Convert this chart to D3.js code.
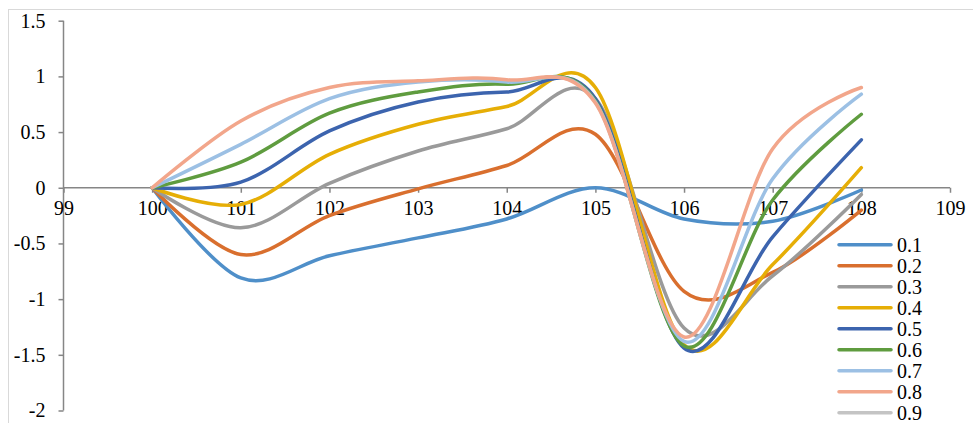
<!DOCTYPE html>
<html>
<head>
<meta charset="utf-8">
<script src="https://cdn.jsdelivr.net/npm/d3@7"></script>
<style>
  html, body { margin: 0; padding: 0; background: #ffffff; }
  svg { display: block; }
</style>
</head>
<body>
<svg id="chart" width="973" height="423"></svg>
<script>
// ---- data ----
const xValues = [100, 101, 102, 103, 104, 105, 106, 107, 108];
const seriesNames = ["0.1", "0.2", "0.3", "0.4", "0.5", "0.6", "0.7", "0.8", "0.9"];
const s01 = [0, -0.81, -0.61, -0.45, -0.28, 0.00, -0.28, -0.30, -0.02];
const s02 = [0, -0.60, -0.25, -0.01, 0.20, 0.48, -0.93, -0.76, -0.20];
const s03 = [0, -0.36, 0.04, 0.33, 0.53, 0.80, -1.26, -0.79, -0.06];
const s04 = [0, -0.15, 0.30, 0.57, 0.73, 0.90, -1.41, -0.69, 0.18];
const s05 = [0, 0.05, 0.51, 0.77, 0.86, 0.80, -1.44, -0.44, 0.43];
const s06 = [0, 0.23, 0.67, 0.86, 0.93, 0.78, -1.42, -0.11, 0.66];
const s07 = [0, 0.39, 0.80, 0.95, 0.95, 0.77, -1.38, 0.08, 0.84];
const s08 = [0, 0.60, 0.90, 0.96, 0.97, 0.76, -1.34, 0.35, 0.90];
const s09 = []; // not visible in the chart
const seriesValues = [s01, s02, s03, s04, s05, s06, s07, s08, s09];
const xTicks = [99, 100, 101, 102, 103, 104, 105, 106, 107, 108, 109];
const yTicks = [1.5, 1, 0.5, 0, -0.5, -1, -1.5, -2];
const colors = ["#4f8fc9", "#d96f2e", "#9a9a9a", "#e6ae06", "#3c64ae", "#5f9c3f", "#9cc0e4", "#f2a68b", "#c4c4c4"];

// ---- layout ----
const svg = d3.select("#chart");
const font = "'Liberation Serif', 'Times New Roman', serif";

svg.append("rect")
  .attr("x", 8.5).attr("y", 9.5).attr("width", 975).attr("height", 430)
  .attr("fill", "#ffffff").attr("stroke", "#d9d9d9").attr("stroke-width", 1);

const x = d3.scaleLinear().domain([99, 109]).range([63.5, 950]);
const y = d3.scaleLinear().domain([-2, 1.5]).range([410.5, 20.7]);

// y axis
const yAxis = svg.append("g")
  .attr("transform", `translate(${x(99)},0)`)
  .call(d3.axisLeft(y).tickValues(yTicks).tickSize(5).tickPadding(13)
    .tickFormat(d => String(d)));
yAxis.select(".domain").attr("stroke", "#868686").attr("stroke-width", 1.5)
  .attr("d", `M0,${y(1.5)}V${y(-2)}`);
yAxis.selectAll(".tick line").attr("stroke", "#868686").attr("stroke-width", 1.5);
yAxis.selectAll(".tick text").attr("fill", "#000").style("font-family", font).style("font-size", "20px");

// x axis at y = 0
const xAxis = svg.append("g")
  .attr("transform", `translate(0,${y(0)})`)
  .call(d3.axisBottom(x).tickValues(xTicks).tickSize(5).tickPadding(8)
    .tickFormat(d => String(d)));
xAxis.select(".domain").attr("stroke", "#868686").attr("stroke-width", 1.5)
  .attr("d", `M${x(99)},0H${x(109)}`);
xAxis.selectAll(".tick line").attr("stroke", "#868686").attr("stroke-width", 1.5);
xAxis.selectAll(".tick text").attr("fill", "#000").style("font-family", font).style("font-size", "20px");

// lines
const line = d3.line()
  .x((d, i) => x(xValues[i]))
  .y(d => y(d))
  .curve(d3.curveCardinal.tension(0));

seriesValues.forEach((vals, k) => {
  if (!vals.length) return;
  svg.append("path")
    .datum(vals)
    .attr("d", line)
    .attr("fill", "none")
    .attr("stroke", colors[k])
    .attr("stroke-width", 3.5)
    .attr("stroke-linejoin", "round")
    .attr("stroke-linecap", "round");
});

// legend
const legend = svg.append("g");
seriesNames.forEach((name, k) => {
  const cy = 244.7 + k * 21;
  legend.append("line")
    .attr("x1", 839).attr("x2", 891).attr("y1", cy).attr("y2", cy)
    .attr("stroke", colors[k]).attr("stroke-width", 3.5).attr("stroke-linecap", "round");
  legend.append("text")
    .attr("x", 897).attr("y", cy).attr("dy", "0.35em")
    .style("font-family", font).style("font-size", "20px").attr("fill", "#000")
    .text(name);
});
</script>
</body>
</html>
